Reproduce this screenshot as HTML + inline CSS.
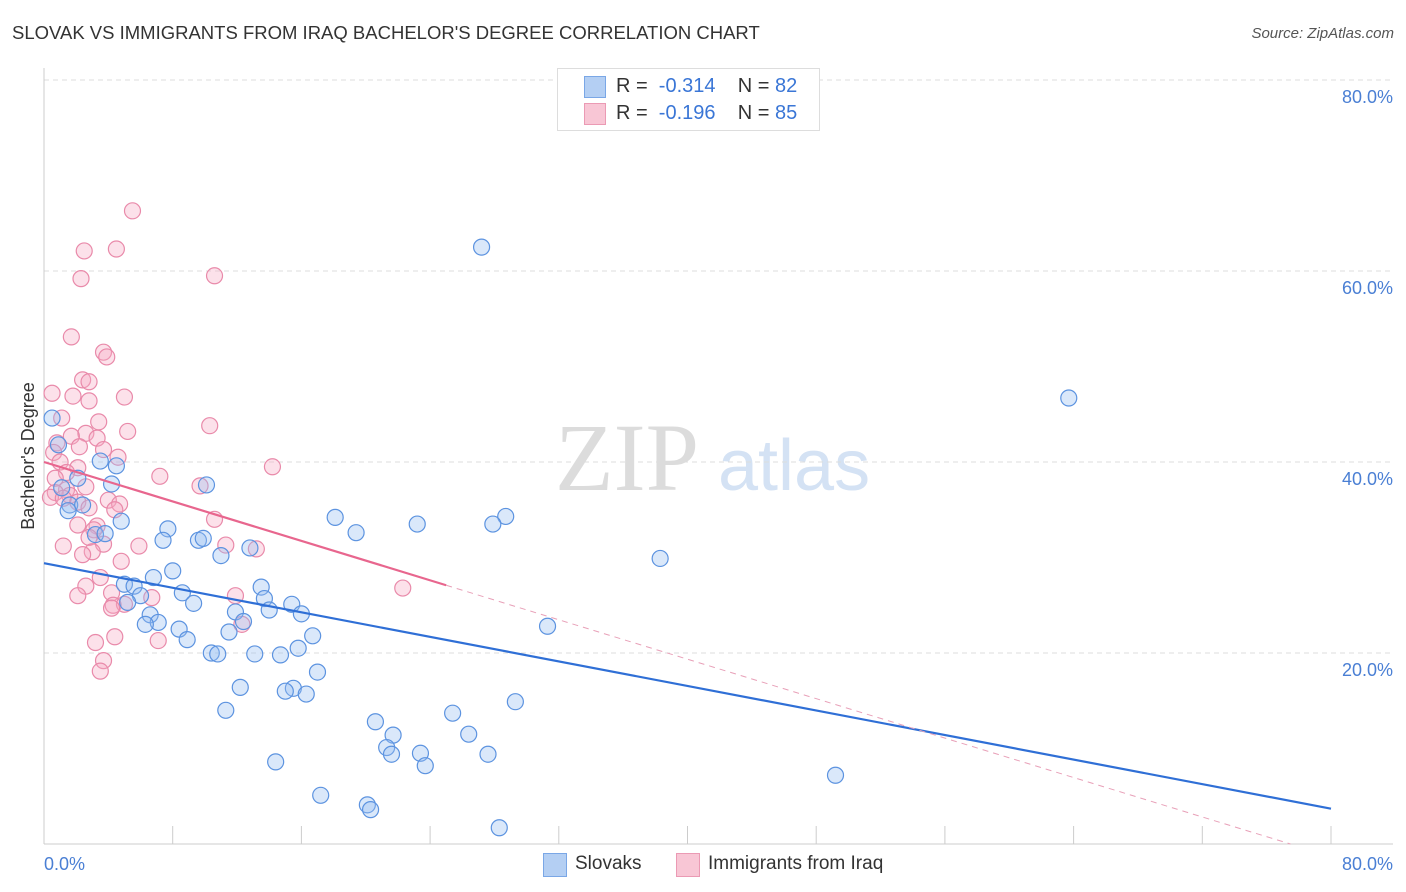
<!DOCTYPE html>
<html><head><meta charset="utf-8">
<style>
body{margin:0;background:#fff;font-family:"Liberation Sans",sans-serif;}
#wrap{position:relative;width:1406px;height:892px;overflow:hidden;}
.abs{position:absolute;white-space:nowrap;}
</style></head>
<body>
<div id="wrap">
<div class="abs" style="left:12px;top:22px;font-size:18.5px;color:#333;">SLOVAK VS IMMIGRANTS FROM IRAQ BACHELOR'S DEGREE CORRELATION CHART</div>
<div class="abs" style="right:12px;top:25px;font-size:15px;color:#555;font-style:italic;">Source: ZipAtlas.com</div>
<svg id="svg" width="1406" height="892" style="position:absolute;left:0;top:0"></svg>
</div>
<script>
const xTicksPct=[0,80];
const yTicks=[20,40,60,80];
const blueX=[27.2,63.7,0.5,0.9,3.5,4.5,2.1,4.2,10.1,1.1,1.6,2.4,1.5,4.8,18.1,23.2,28.7,27.9,19.4,7.7,7.4,9.6,9.9,3.2,3.8,12.8,11.0,38.3,8.0,6.8,5.0,5.6,13.5,8.6,6.0,13.7,9.3,5.2,15.4,11.9,14.0,16.0,6.6,12.4,7.1,6.3,8.4,11.5,16.7,31.3,8.9,15.8,10.4,10.8,13.1,14.7,17.0,12.2,15.5,15.0,16.3,29.3,11.3,25.4,20.6,21.7,26.4,21.3,23.4,21.6,27.6,23.7,14.4,49.2,17.2,20.1,20.3,28.3];
const blueY=[62.5,46.7,44.6,41.8,40.1,39.6,38.3,37.7,37.6,37.3,35.5,35.5,34.9,33.8,34.2,33.5,34.3,33.5,32.6,33.0,31.8,31.8,32.0,32.4,32.5,31.0,30.2,29.9,28.6,27.9,27.2,27.0,26.9,26.3,26.0,25.7,25.2,25.3,25.1,24.3,24.5,24.1,24.0,23.3,23.2,23.0,22.5,22.2,21.8,22.8,21.4,20.5,20.0,19.9,19.9,19.8,18.0,16.4,16.3,16.0,15.7,14.9,14.0,13.7,12.8,11.4,11.5,10.1,9.5,9.4,9.4,8.2,8.6,7.2,5.1,4.1,3.6,1.7];
const pinkX=[5.5,4.5,2.5,10.6,2.3,1.7,3.7,3.9,2.4,2.8,0.5,5.0,1.8,2.8,1.1,3.4,10.3,5.2,2.6,1.7,3.3,0.8,2.2,3.7,4.6,0.6,1.0,14.2,2.1,1.4,7.2,0.7,9.7,2.6,1.4,0.7,1.6,0.4,1.2,4.0,2.1,4.7,2.8,4.4,10.6,2.1,3.3,3.1,2.8,3.7,5.9,1.2,11.3,13.2,3.0,2.4,4.8,3.5,2.6,22.3,11.9,2.1,4.2,6.7,4.3,5.0,4.2,12.3,7.1,3.2,4.4,3.7,3.5];
const pinkY=[66.3,62.3,62.1,59.5,59.2,53.1,51.5,51.0,48.6,48.4,47.2,46.8,46.9,46.4,44.6,44.2,43.8,43.2,43.0,42.7,42.5,42.0,41.6,41.3,40.5,41.0,40.0,39.5,39.4,38.9,38.5,38.3,37.5,37.4,37.1,36.8,36.5,36.3,36.2,36.0,35.8,35.6,35.2,35.0,34.0,33.4,33.3,32.9,32.1,31.4,31.2,31.2,31.3,30.9,30.6,30.3,29.6,27.9,27.0,26.8,26.0,26.0,26.3,25.8,25.0,25.1,24.7,23.0,21.3,21.1,21.7,19.2,18.1];
const blueTrend=[29.4,3.7];
const pinkTrend=[40.0,-1.3];
const pinkSolidEnd=25;

const X0=44,X1=1331,Y0=844,Y80=80;
const xs=v=>X0+(X1-X0)*v/80;
const ys=v=>Y0-(Y0-Y80)*v/80;
const svg=document.getElementById('svg');
const NS='http://www.w3.org/2000/svg';
function mk(t,a,p){const e=document.createElementNS(NS,t);for(const k in a)e.setAttribute(k,a[k]);(p||svg).appendChild(e);return e;}

let w=mk('text',{x:555,y:490,'font-size':96,'font-family':'Liberation Serif,serif',fill:'#dcdcdc'});w.textContent='ZIP';


let w2=mk('text',{x:718,y:490,'font-size':72,'font-family':'Liberation Sans,sans-serif',fill:'#d4e2f4'});w2.textContent='atlas';



yTicks.forEach(t=>{
 const g=mk('line',{x1:X0,x2:1393,y1:ys(t),y2:ys(t),stroke:'#ddd','stroke-dasharray':'5,4'});
 
 
 const l=mk('text',{x:1393,y:ys(t)+23,'text-anchor':'end','font-size':18,fill:'#4a7fd4'});l.textContent=t.toFixed(1)+'%';
 
 
});
mk('line',{x1:X0,x2:X0,y1:68,y2:Y0,stroke:'#ccc'});
mk('line',{x1:X0,x2:1393,y1:Y0,y2:Y0,stroke:'#ccc'});
for(let i=1;i<=10;i++){const x=xs(i*8);const t=mk('line',{x1:x,x2:x,y1:Y0,y2:Y0-18,stroke:'#ccc'});
 
 }
xTicksPct.forEach(t=>{const l=mk('text',{x:t==0?44:1393,y:870,'text-anchor':t==0?'start':'end','font-size':18,fill:'#4a7fd4'});l.textContent=t.toFixed(1)+'%';
 
 });
const yt=mk('text',{x:34,y:456,'text-anchor':'middle','font-size':18,fill:'#333',transform:'rotate(-90 34 456)'});yt.textContent="Bachelor's Degree";



pinkX.forEach((v,i)=>{const c=mk('circle',{cx:xs(v),cy:ys(pinkY[i]),r:8,fill:'rgba(245,170,195,0.35)',stroke:'#e98aaa','stroke-width':1.2});
 
 });
blueX.forEach((v,i)=>{const c=mk('circle',{cx:xs(v),cy:ys(blueY[i]),r:8,fill:'rgba(150,190,240,0.35)',stroke:'#5c93e0','stroke-width':1.2});
 
 });

const bl=mk('line',{x1:xs(0),y1:ys(blueTrend[0]),x2:xs(80),y2:ys(blueTrend[1]),stroke:'#2f6fd6','stroke-width':2.2});


const pv=x=>pinkTrend[0]+(pinkTrend[1]-pinkTrend[0])*x/80;
const pl=mk('line',{x1:xs(0),y1:ys(pv(0)),x2:xs(pinkSolidEnd),y2:ys(pv(pinkSolidEnd)),stroke:'#e8668e','stroke-width':2.2});


const xz=-pinkTrend[0]/(pinkTrend[1]-pinkTrend[0])*80;
const pd=mk('line',{x1:xs(pinkSolidEnd),y1:ys(pv(pinkSolidEnd)),x2:xs(Math.min(xz,80)),y2:ys(pv(Math.min(xz,80))),stroke:'#e8a0b8','stroke-width':1,'stroke-dasharray':'6,5'});


</script>
<div class="abs" style="left:557px;top:68px;width:261px;height:61px;border:1px solid #ddd;background:#fff;font-size:20px;color:#333;">
 <div style="position:absolute;left:26px;top:7px;width:20px;height:20px;background:#b4cff3;border:1px solid #7aa7e6"></div>
 <div style="position:absolute;left:58px;top:6px">R = <span style="color:#3a76d6">&nbsp;-0.314</span>&nbsp;&nbsp;&nbsp; N = <span style="color:#3a76d6">82</span></div>
 <div style="position:absolute;left:26px;top:34px;width:20px;height:20px;background:#f8c6d5;border:1px solid #eb9ab4"></div>
 <div style="position:absolute;left:58px;top:33px">R = <span style="color:#3a76d6">&nbsp;-0.196</span>&nbsp;&nbsp;&nbsp; N = <span style="color:#3a76d6">85</span></div>
</div>
<div class="abs" style="left:543px;top:853px;width:22px;height:22px;background:#b4cff3;border:1px solid #7aa7e6"></div>
<div class="abs" style="left:575px;top:853px;font-size:19px;color:#333">Slovaks</div>
<div class="abs" style="left:676px;top:853px;width:22px;height:22px;background:#f8c6d5;border:1px solid #eb9ab4"></div>
<div class="abs" style="left:708px;top:853px;font-size:19px;color:#333">Immigrants from Iraq</div>
</body></html>
